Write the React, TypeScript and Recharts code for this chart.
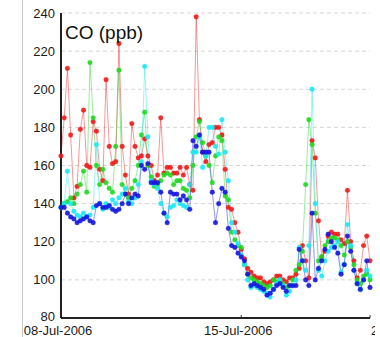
import React from "react";
import {
  LineChart,
  Line,
  XAxis,
  YAxis,
  CartesianGrid,
} from "recharts";

// hours since 08-Jul-2006 00:00, one sample every 3 hours
const HOURS = Array.from({ length: 97 }, (_, i) => i * 3);

const RED = [
  165, 185, 211, 176, 143, 149, 179, 189, 160, 159, 183, 178, 158, 152, 205, 170,
  161, 162, 224, 170, 155, 145, 182, 170, 164, 165, 174, 165, 160, 152, 155, 185,
  156, 159, 159, 156, 156, 159, 155, 159, 150, 147, 238, 184, 167, 162, 171, 172,
  180, 180, 176, 158, 138, 137, 130, 125, 116, 111, 106, 104, 102, 101, 101, 99,
  98, 99, 100, 102, 102, 100, 99, 101, 101, 103, 106, 118, 110, 101, 173, 164,
  131, 112, 115, 123, 125, 124, 124, 121, 119, 147, 120, 110, 101, 105, 118, 123,
  110,
];

const GREEN = [
  138, 140, 141, 143, 140, 145, 150, 157, 146, 214, 185, 160, 150, 158, 151, 148,
  146, 170, 210, 150, 145, 143, 148, 152, 160, 176, 188, 160, 154, 149, 150, 152,
  155, 156, 155, 150, 152, 152, 148, 147, 143, 160, 175, 183, 172, 165, 160, 151,
  165, 175, 173, 144, 142, 125, 121, 118, 117, 108, 103, 101, 100, 99, 98, 97,
  96, 97, 100, 99, 100, 98, 96, 97, 100, 105, 108, 115, 150, 184, 171, 135,
  110, 112, 118, 120, 122, 122, 121, 118, 113, 120, 117, 108, 100, 98, 102, 103,
  100,
];

const CYAN = [
  138, 140, 157, 140, 136, 134, 133, 135, 133, 134, 138, 171, 140, 137, 140, 138,
  142, 140, 143, 145, 148, 141, 140, 143, 150, 162, 212, 175, 152, 150, 148, 140,
  135, 133, 138, 139, 142, 140, 139, 138, 150, 167, 167, 175, 159, 165, 180, 180,
  170, 166, 184, 167, 152, 130, 125, 119, 113, 108, 100, 96, 97, 96, 95, 94,
  93, 91, 95, 98, 100, 97, 92, 94, 97, 100, 117, 110, 105, 118, 200, 140,
  105, 102, 110, 115, 117, 118, 120, 104, 108, 129, 118, 105, 98, 95, 100, 105,
  102,
];

const BLUE = [
  138, 138, 135, 133, 132, 130, 131, 132, 133, 131, 130, 139, 140, 138, 138, 139,
  137, 136, 137, 140, 145, 140, 143, 145, 144, 160, 158, 161, 151, 151, 151, 146,
  135, 130, 146, 145, 145, 142, 144, 142, 137, 173, 170, 176, 167, 167, 167, 146,
  130, 140, 148, 146, 127, 118, 117, 114, 112, 110, 103, 97, 98, 97, 96, 95,
  92, 93, 95, 97, 98, 96, 94, 97, 97, 97, 116, 110, 100, 97, 135, 100,
  106, 110, 116, 124, 120, 117, 114, 103, 108, 123, 115, 105, 98, 95, 100, 110,
  96,
];

const Y_TICKS = [80, 100, 120, 140, 160, 180, 200, 220, 240];
const X_TICKS = [0, 168, 288];
const X_LABELS = ["08-Jul-2006", "15-Jul-2006", "20-Jul-2006"];

const data = HOURS.map((h, i) => ({
  h,
  red: RED[i],
  green: GREEN[i],
  cyan: CYAN[i],
  blue: BLUE[i],
}));

const FONT = "'Liberation Sans', Arial, sans-serif";

const DateTick = (props: any) => {
  const { x, y, payload } = props;
  const idx = X_TICKS.indexOf(payload.value);
  const last = idx === X_TICKS.length - 1;
  return (
    <text
      x={last ? x + 1 : x - 3}
      y={y}
      dy="0.71em"
      textAnchor={last ? "start" : "middle"}
      fill="#1a1a1a"
      fontSize={13}
      fontFamily={FONT}
    >
      {X_LABELS[idx]}
    </text>
  );
};

// y labels; the bottom one is lifted a bit so it clears the date below it
const ValueTick = (props: any) => {
  const { x, y, payload } = props;
  const lift = payload.value === Y_TICKS[0] ? -2 : 0;
  return (
    <text
      x={x}
      y={y + lift}
      dy="0.355em"
      textAnchor="end"
      fill="#1a1a1a"
      fontSize={13}
      fontFamily={FONT}
    >
      {payload.value}
    </text>
  );
};

const series = [
  { key: "red", color: "#f01818" },
  { key: "green", color: "#1ed81e" },
  { key: "cyan", color: "#18e8f4" },
  { key: "blue", color: "#1414e0" },
];

export default function App() {
  return (
    <div
      style={{
        position: "absolute",
        left: 0,
        top: 0,
        width: 380,
        height: 337,
        background: "#fff",
        overflow: "hidden",
      }}
    >
      {/* figure border on the left */}
      <div
        style={{
          position: "absolute",
          left: 22,
          top: 0,
          width: 1,
          height: 337,
          background: "#c8c8c8",
        }}
      />
      <div style={{ position: "absolute", left: 0, top: 0, width: 375, height: 337, overflow: "hidden" }}>
        <LineChart
          width={375}
          height={337}
          data={data}
          margin={{ top: 13, right: 5, left: 0, bottom: 0 }}
        >
          <CartesianGrid
            vertical={false}
            stroke="#d6d6d6"
            strokeDasharray="4 3"
            yAxisId="left"
          />
          <XAxis
            dataKey="h"
            type="number"
            domain={[0, 288]}
            ticks={X_TICKS}
            interval={0}
            height={19}
            axisLine={{ stroke: "#222", strokeWidth: 2 }}
            tickLine={{ stroke: "#333" }}
            tickSize={-3}
            tickMargin={11}
            tick={<DateTick />}
          />
          <XAxis
            xAxisId="top"
            dataKey="h"
            type="number"
            orientation="top"
            domain={[0, 288]}
            ticks={[168]}
            height={0}
            axisLine={{ stroke: "#777", strokeWidth: 1.5 }}
            tickLine={{ stroke: "#555" }}
            tickSize={-3}
            tick={false}
          />
          <YAxis
            yAxisId="left"
            domain={[80, 240]}
            ticks={Y_TICKS}
            interval={0}
            width={61}
            axisLine={{ stroke: "#222", strokeWidth: 2 }}
            tickLine={false}
            tickSize={0}
            tickMargin={6}
            tick={<ValueTick />}
          />
          <YAxis
            yAxisId="right"
            orientation="right"
            domain={[80, 240]}
            ticks={Y_TICKS}
            width={0}
            axisLine={{ stroke: "#666", strokeWidth: 1.5 }}
            tickLine={{ stroke: "#777" }}
            tickSize={-3}
            tick={false}
          />
          {series.map((s) => (
            <Line
              key={s.key}
              yAxisId="left"
              dataKey={s.key}
              type="linear"
              stroke={s.color}
              strokeOpacity={0.45}
              strokeWidth={1}
              dot={{ r: 2.4, fill: s.color, stroke: s.color, strokeWidth: 0.5, fillOpacity: 0.9 }}
              isAnimationActive={false}
            />
          ))}
        </LineChart>
      </div>
      <div
        style={{
          position: "absolute",
          left: 65,
          top: 23,
          fontSize: 19,
          lineHeight: "19px",
          fontFamily: FONT,
          color: "#111",
          zIndex: 2,
        }}
      >
        CO (ppb)
      </div>
    </div>
  );
}
